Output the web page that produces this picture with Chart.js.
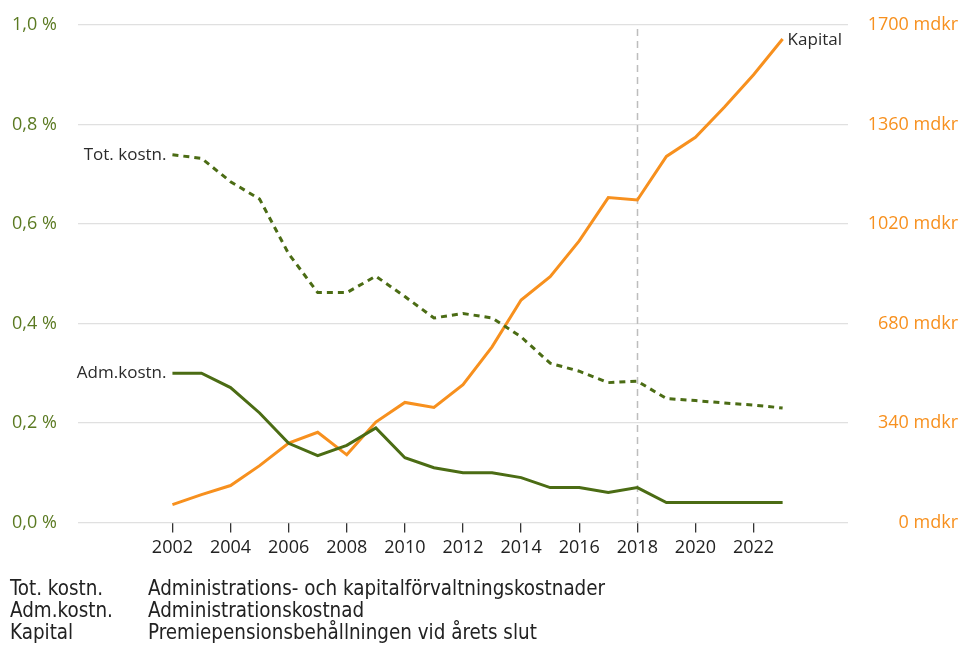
<!DOCTYPE html>
<html>
<head>
<meta charset="utf-8">
<script src="https://cdn.jsdelivr.net/npm/chart.js@4/dist/chart.umd.min.js"></script>
<style>
  html, body { margin: 0; padding: 0; background: #fff; }
  #wrap { position: relative; width: 960px; height: 648px; overflow: hidden; }
  #chart { position: absolute; left: 0; top: 0; }
  .notes { position: absolute; left: 0; top: 577px; font-family: "Liberation Sans Narrow", "DejaVu Sans Condensed", sans-serif; font-size: 20.4px; line-height: 22px; color: #222; }
  .notes div { position: relative; height: 22px; white-space: nowrap; }
  .notes .k { position: absolute; left: 10px; }
  .notes .v { position: absolute; left: 148px; }
</style>
</head>
<body>
<div id="wrap">
  <canvas id="chart" width="960" height="648"></canvas>
  <div class="notes">
    <div><span class="k">Tot. kostn.</span><span class="v">Administrations- och kapitalförvaltningskostnader</span></div>
    <div><span class="k">Adm.kostn.</span><span class="v">Administrationskostnad</span></div>
    <div><span class="k">Kapital</span><span class="v">Premiepensionsbehållningen vid årets slut</span></div>
  </div>
</div>
<script>
// values
const years = [2002, 2003, 2004, 2005, 2006, 2007, 2008, 2009, 2010, 2011, 2012,
               2013, 2014, 2015, 2016, 2017, 2018, 2019, 2020, 2021, 2022, 2023];
const totKostn = [0.739, 0.732, 0.685, 0.650, 0.540, 0.462, 0.462, 0.495, 0.454, 0.411, 0.420,
                  0.411, 0.373, 0.320, 0.304, 0.281, 0.284, 0.249, 0.245, 0.240, 0.236, 0.230];
const admKostn = [0.30, 0.30, 0.271, 0.22, 0.159, 0.134, 0.155, 0.19, 0.13, 0.11, 0.10,
                  0.10, 0.09, 0.07, 0.07, 0.06, 0.07, 0.04, 0.04, 0.04, 0.04, 0.04];
const kapital = [61, 95, 126, 194, 271, 308, 231, 343, 410, 393, 471,
                 600, 760, 840, 962, 1110, 1102, 1251, 1316, 1420, 1530, 1652];
const yearTicks = [2002, 2004, 2006, 2008, 2010, 2012, 2014, 2016, 2018, 2020, 2022];
const pctTicks = [0, 0.2, 0.4, 0.6, 0.8, 1.0];
const mdkrTicks = [0, 340, 680, 1020, 1360, 1700];
const markYear = 2018;

const GREEN = '#4b6c14';
const GREEN_TXT = '#5b7a22';
const ORANGE = '#f7901e';
const FONT = '"Open Sans", sans-serif';

function pts(vals) {
    return years.map((y, i) => ({ x: y, y: vals[i] }));
}

const annotations = {
    id: 'annotations',
    beforeDatasetsDraw(chart) {
        const ctx = chart.ctx;
        const area = chart.chartArea;
        const x = Math.round(chart.scales.x.getPixelForValue(markYear)) + 0.5;
        ctx.save();
        ctx.strokeStyle = '#bdbdbd';
        ctx.lineWidth = 1.5;
        ctx.setLineDash([7, 5]);
        ctx.beginPath();
        ctx.moveTo(x, area.top + 4);
        ctx.lineTo(x, area.bottom);
        ctx.stroke();
        ctx.restore();
    },
    afterDatasetsDraw(chart) {
        const ctx = chart.ctx;
        const sx = chart.scales.x, sy = chart.scales.y, sy1 = chart.scales.y1;
        ctx.save();
        ctx.font = '17px ' + FONT;
        ctx.fillStyle = '#2b2b2b';
        ctx.textBaseline = 'middle';
        ctx.textAlign = 'right';
        ctx.fillText('Tot. kostn.', sx.getPixelForValue(years[0]) - 6, sy.getPixelForValue(totKostn[0]));
        ctx.fillText('Adm.kostn.', sx.getPixelForValue(years[0]) - 6, sy.getPixelForValue(admKostn[0]));
        ctx.textAlign = 'left';
        const n = years.length - 1;
        ctx.fillText('Kapital', sx.getPixelForValue(years[n]) + 5, sy1.getPixelForValue(kapital[n]) + 1);
        ctx.restore();
    }
};

new Chart(document.getElementById('chart'), {
    type: 'line',
    data: {
        datasets: [
            { label: 'Tot. kostn.', data: pts(totKostn), yAxisID: 'y', borderColor: GREEN,
              borderWidth: 3, borderDash: [6, 5], pointRadius: 0, tension: 0 },
            { label: 'Adm.kostn.', data: pts(admKostn), yAxisID: 'y', borderColor: GREEN,
              borderWidth: 3, pointRadius: 0, tension: 0 },
            { label: 'Kapital', data: pts(kapital), yAxisID: 'y1', borderColor: ORANGE,
              borderWidth: 3, pointRadius: 0, tension: 0 }
        ]
    },
    options: {
        responsive: false,
        animation: false,
        layout: { padding: { left: 12, right: 2, top: 25, bottom: 84 } },
        plugins: { legend: { display: false }, tooltip: { enabled: false } },
        scales: {
            x: {
                type: 'linear',
                min: 1998.75,
                max: 2025.25,
                afterBuildTicks: (scale) => { scale.ticks = yearTicks.map(v => ({ value: v })); },
                ticks: {
                    autoSkip: false, maxRotation: 0, padding: 5,
                    color: '#222', font: { family: FONT, size: 18 },
                    callback: (v) => String(v)
                },
                grid: { drawOnChartArea: false, tickLength: 10, color: '#333', lineWidth: 1.3 },
                border: { display: false }
            },
            y: {
                position: 'left',
                min: 0,
                max: 1.0,
                afterBuildTicks: (scale) => { scale.ticks = pctTicks.map(v => ({ value: v })); },
                afterFit: (scale) => { scale.width = 66; },
                ticks: {
                    crossAlign: 'far', padding: 0,
                    color: GREEN_TXT, font: { family: FONT, size: 18 },
                    callback: (v) => v.toFixed(1).replace('.', ',') + ' %'
                },
                grid: { color: '#e0e0e0', lineWidth: 1.3, drawTicks: false },
                border: { display: false }
            },
            y1: {
                position: 'right',
                min: 0,
                max: 1700,
                afterBuildTicks: (scale) => { scale.ticks = mdkrTicks.map(v => ({ value: v })); },
                afterFit: (scale) => { scale.width = 110; },
                ticks: {
                    crossAlign: 'far', padding: 0,
                    color: ORANGE, font: { family: FONT, size: 18 },
                    callback: (v) => v + ' mdkr'
                },
                grid: { display: false, drawTicks: false },
                border: { display: false }
            }
        }
    },
    plugins: [annotations]
});
</script>
</body>
</html>
